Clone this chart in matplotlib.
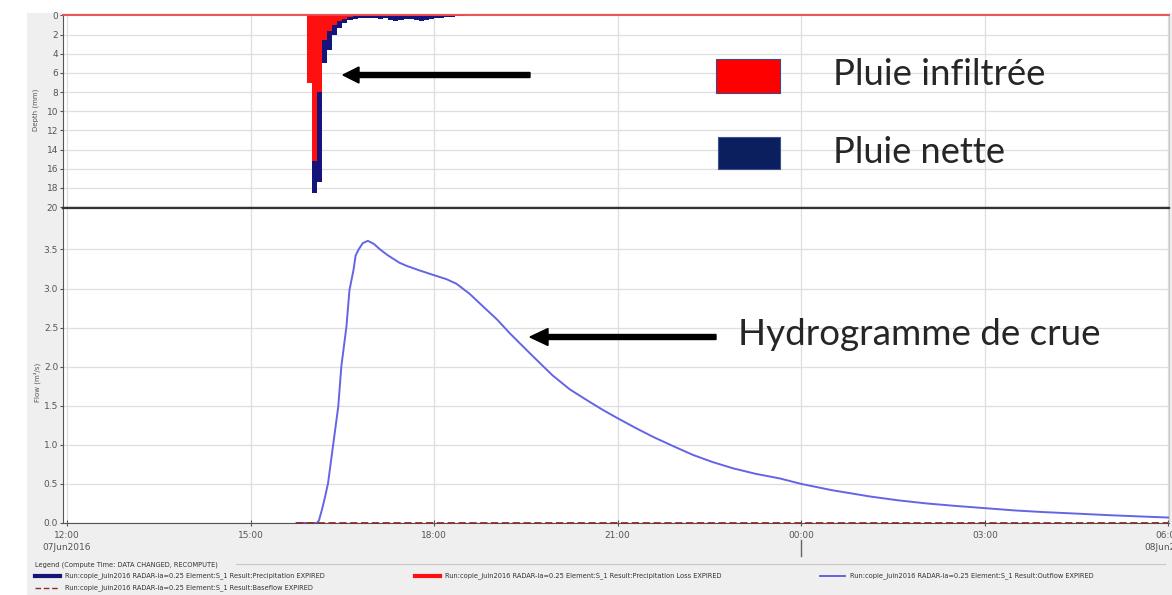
#!/usr/bin/env python3
import matplotlib
matplotlib.use('Agg')
import matplotlib.pyplot as plt
from matplotlib.patches import Rectangle, FancyArrow
from matplotlib.lines import Line2D
from matplotlib.transforms import blended_transform_factory

W, H = 1172, 595

# pluie (pas de 5 min) : heure de début, précipitation totale et pertes (mm)
rain_times = ['15:55', '16:00', '16:05', '16:10', '16:15', '16:20', '16:25', '16:30',
              '16:35', '16:40', '16:45', '16:50', '16:55', '17:00', '17:05', '17:10',
              '17:15', '17:20', '17:25', '17:30', '17:35', '17:40', '17:45', '17:50',
              '17:55', '18:00', '18:05', '18:10', '18:15', '18:20', '18:25']
precip = [7.0, 18.5, 17.4, 5.0, 3.6, 2.0, 1.3, 0.8,
          0.5, 0.35, 0.3, 0.25, 0.3, 0.3, 0.35, 0.3,
          0.45, 0.55, 0.5, 0.4, 0.35, 0.45, 0.55, 0.45,
          0.35, 0.3, 0.25, 0.2, 0.15, 0.1, 0.05]
loss = [7.0, 15.2, 8.0, 2.6, 1.6, 1.0, 0.6, 0.35,
        0.2, 0.1, 0.08, 0.05, 0.05, 0.05, 0.05, 0.05,
        0.05, 0.05, 0.05, 0.05, 0.05, 0.05, 0.05, 0.05,
        0.05, 0.05, 0.05, 0.05, 0.05, 0.05, 0.05]

# hydrogramme (m3/s)
flow_times = ['15:45', '16:05', '16:07', '16:10', '16:13', '16:16', '16:21', '16:26',
              '16:29', '16:34', '16:37', '16:41', '16:43', '16:46', '16:50', '16:55',
              '17:01', '17:07', '17:14', '17:20', '17:26', '17:33', '17:46', '18:00',
              '18:12', '18:22', '18:35', '18:48', '19:02', '19:14', '19:34', '19:56',
              '20:13', '20:30', '20:45', '21:00', '21:17', '21:35', '21:55', '22:14',
              '22:33', '22:53', '23:15', '23:39', '00:00', '00:30', '01:07', '01:35',
              '02:03', '02:30', '03:00', '03:30', '03:57', '04:30', '05:02', '05:30',
              '06:00']
flow = [0.0, 0.0, 0.03, 0.17, 0.33, 0.51, 1.0, 1.49,
        2.0, 2.51, 2.98, 3.24, 3.42, 3.5, 3.58, 3.61,
        3.57, 3.5, 3.43, 3.38, 3.33, 3.29, 3.23, 3.17,
        3.12, 3.06, 2.93, 2.77, 2.60, 2.43, 2.17, 1.89,
        1.71, 1.57, 1.45, 1.34, 1.22, 1.10, 0.98, 0.87,
        0.78, 0.70, 0.63, 0.57, 0.50, 0.42, 0.34, 0.29,
        0.25, 0.22, 0.19, 0.16, 0.14, 0.12, 0.10, 0.085,
        0.07]

baseflow_times = ['15:45', '06:00']
baseflow = [0.0, 0.0]

tick_hours = ['12:00', '15:00', '18:00', '21:00', '00:00', '03:00', '06:00']
depth_ticks = [0, 2, 4, 6, 8, 10, 12, 14, 16, 18, 20]
flow_ticks = [0.0, 0.5, 1.0, 1.5, 2.0, 2.5, 3.0, 3.5]

RUN = "Run:copie_juin2016 RADAR-la=0.25 Element:S_1 Result:"


def hours(t):
    """'HH:MM' -> heures depuis 07Jun2016 12:00"""
    hh, mm = [int(v) for v in t.split(':')]
    if hh < 12:
        hh += 24
    return hh + mm / 60.0 - 12


def fx(x):
    return x / W


def fy(y):
    return 1 - y / H


fig = plt.figure(figsize=(W / 100, H / 100), dpi=100)
fig.patch.set_facecolor('white')
fig.patches.append(Rectangle((fx(27), 0), 1 - fx(27), fy(13), transform=fig.transFigure,
                             facecolor='#efefef', edgecolor='none', zorder=-10))

ax1 = fig.add_axes([fx(63), fy(208), (1169 - 63) / W, (208 - 15) / H])
ax2 = fig.add_axes([fx(63), fy(523), (1169 - 63) / W, (523 - 208) / H])

xt = [hours(t) for t in tick_hours]
for ax in (ax1, ax2):
    ax.set_facecolor('white')
    ax.set_xlim(-0.065, 18.01)
    ax.set_xticks(xt)
    ax.grid(True, color='#dedede', lw=0.9)
    ax.set_axisbelow(True)
    ax.spines['left'].set_color('#555555')
    ax.spines['right'].set_color('#c8c8c8')
    ax.tick_params(axis='y', length=2.5, pad=1, labelsize=6.5, colors='#555555')

# --- hyétogramme ---
rx = [hours(t) for t in rain_times]
ax1.bar(rx, precip, width=5 / 60, align='edge', color='#14147a', lw=0, zorder=2)
ax1.bar(rx, loss, width=5 / 60, align='edge', color='#ff1010', lw=0, zorder=3)
ax1.axhline(0, color='#f04848', lw=1.3, zorder=4, clip_on=False)
ax1.set_ylim(20.1, -0.05)
ax1.set_yticks(depth_ticks)
ax1.set_yticklabels([str(v) for v in depth_ticks])
ax1.tick_params(axis='x', length=0, labelbottom=False)
ax1.spines['top'].set_visible(False)
ax1.spines['bottom'].set_color('#333333')
ax1.spines['bottom'].set_linewidth(1.6)

# --- hydrogramme ---
ax2.axhline(0, color='#e0a0a0', lw=0.8, zorder=2)
ax2.plot([hours(t) for t in flow_times], flow, color='#6464e6', lw=1.4, zorder=3,
         solid_joinstyle='round')
ax2.plot([hours(t) for t in baseflow_times], baseflow, color='#8a2e2e', lw=1.3,
         ls=(0, (4, 2)), zorder=4, clip_on=False)
ax2.set_ylim(0, 4.03)
ax2.set_yticks(flow_ticks)
ax2.set_yticklabels(['%.1f' % v for v in flow_ticks])
ax2.set_xticklabels(tick_hours)
ax2.tick_params(axis='x', direction='inout', length=5, pad=3, labelsize=6.5, colors='#555555')
ax2.spines['top'].set_color('#333333')
ax2.spines['top'].set_linewidth(1.6)
ax2.spines['bottom'].set_color('#555555')

tr = blended_transform_factory(ax2.transData, ax2.transAxes)
ax2.text(0, -0.079, '07Jun2016', transform=tr, ha='center', va='center', fontsize=6.5, color='#555555')
ax2.text(18, -0.079, '08Jun2016', transform=tr, ha='center', va='center', fontsize=6.5, color='#555555',
         clip_on=False)
ax2.plot([12, 12], [-0.054, -0.105], transform=tr, color='#666666', lw=1, clip_on=False)

fig.text(fx(36), fy(110), 'Depth (mm)', rotation=90, ha='center', va='center', fontsize=5, color='#555555')
fig.text(fx(37), fy(382), 'Flow (m³/s)', rotation=90, ha='center', va='center', fontsize=5, color='#555555')

# --- légende HEC-HMS ---
lg = dict(fontsize=4.8, color='#333333', va='center', ha='left')
fig.text(fx(35), fy(565), 'Legend (Compute Time: DATA CHANGED, RECOMPUTE)', **lg)
fig.add_artist(Line2D([fx(236), fx(1165)], [fy(564)] * 2, color='#c8c8c8', lw=0.8))
entries = [
    (35, 576, '#14147a', 3.0, '-', 'Precipitation EXPIRED'),
    (415, 576, '#ff1010', 3.0, '-', 'Precipitation Loss EXPIRED'),
    (820, 576, '#6464e6', 1.4, '-', 'Outflow EXPIRED'),
    (35, 588, '#8a2e2e', 1.0, (0, (4, 2)), 'Baseflow EXPIRED'),
]
for x0, y0, c, lw, ls, label in entries:
    fig.add_artist(Line2D([fx(x0), fx(x0 + 25)], [fy(y0)] * 2, color=c, lw=lw, ls=ls))
    fig.text(fx(x0 + 30), fy(y0), RUN + label, **lg)

# --- annotations ---
big = dict(family='Lato', fontsize=26, color='#262626', ha='left', va='baseline')
t1 = fig.text(fx(833), fy(85), 'Pluie infiltrée', **big)
t2 = fig.text(fx(833), fy(163), 'Pluie nette', **big)
t3 = fig.text(fx(738), fy(345), 'Hydrogramme de crue', **big)

fig.patches.append(Rectangle((fx(716), fy(93)), (780 - 716) / W, (93 - 59) / H, transform=fig.transFigure,
                             facecolor='#ff0000', edgecolor='#3a4a8a', lw=0.8))
fig.patches.append(Rectangle((fx(718), fy(169)), (780 - 718) / W, (169 - 137) / H, transform=fig.transFigure,
                             facecolor='#0b1f5e', edgecolor='#405090', lw=0.8))

for tail, tip, y, hw, hl in [(530, 343, 75, 16, 16), (716, 530, 337, 17, 18)]:
    fig.patches.append(FancyArrow(tail / 100, (H - y) / 100, (tip - tail) / 100, 0, width=0.05,
                                  head_width=hw / 100, head_length=hl / 100, length_includes_head=True,
                                  color='black', transform=fig.dpi_scale_trans))

fig.canvas.draw()
r = fig.canvas.get_renderer()
for t, target in [(t1, 212), (t2, 172), (t3, 362)]:
    w = t.get_window_extent(r).width
    t.set_fontsize(t.get_fontsize() * target / w)

fig.savefig('out.png', dpi=100)
